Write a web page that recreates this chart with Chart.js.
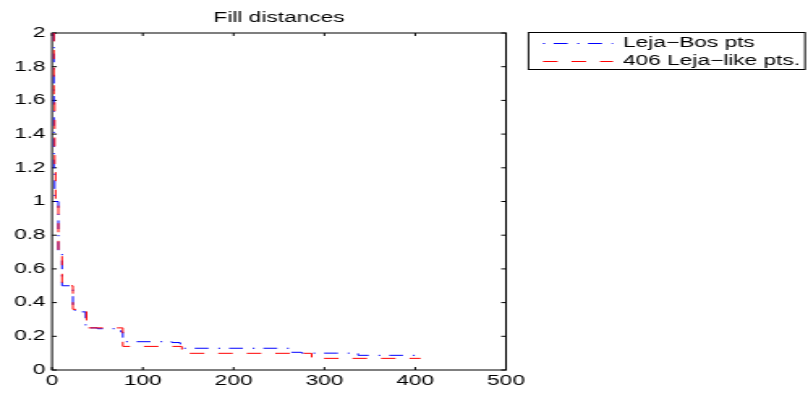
<!DOCTYPE html>
<html><head><meta charset="utf-8">
<script src="https://cdn.jsdelivr.net/npm/chart.js@4/dist/chart.umd.min.js"></script>
<style>
html,body{margin:0;padding:0;background:#fff;overflow:hidden;width:808px;height:393px;}
#wrap{width:499px;height:393px;transform:scaleX(1.6192);transform-origin:0 0;}
canvas{display:block;}
</style></head><body>
<div id="wrap"><canvas id="c" width="499" height="393"></canvas></div>
<script>
const titleText = 'Fill distances';
const seriesNames = ['Leja\u2212Bos pts', '406 Leja\u2212like pts.'];
const seriesColors = ['#0000ff', '#ff0000'];
const blueN = [1, 2, 3, 7, 11, 23, 31, 37, 50, 70, 76, 78, 132, 141, 143, 264, 275, 337, 406];
const blueV = [2.0, 1.17, 1.0, 0.71, 0.5, 0.355, 0.345, 0.25, 0.245, 0.235, 0.225, 0.168, 0.163, 0.155, 0.129, 0.105, 0.1, 0.087, 0.087];
const redN = [1, 2, 3, 4, 7, 11, 23, 38, 78, 143, 286, 406];
const redV = [2.0, 1.6, 1.2, 1.0, 0.71, 0.5, 0.36, 0.25, 0.14, 0.099, 0.069, 0.069];
const xTicks = [0, 100, 200, 300, 400, 500];
const yTicks = [0, 0.2, 0.4, 0.6, 0.8, 1, 1.2, 1.4, 1.6, 1.8, 2];

const FONT = "'Liberation Sans', Arial, Helvetica, sans-serif";
const SX = 1.6192;
const dashes = [[8.6, 6, 1.2, 5.4], [9, 8.6]];
const legendDashOffset = [14.6, 0];

const framePlugin = {
  id: 'frame',
  beforeDatasetsDraw(chart) {
    const {ctx, chartArea: a, scales} = chart;
    ctx.save();
    ctx.strokeStyle = '#000';
    ctx.lineWidth = 1;
    ctx.strokeRect(a.left, a.top, a.right - a.left, a.bottom - a.top);
    const tl = 3;
    ctx.beginPath();
    scales.x.ticks.forEach(t => {
      const x = scales.x.getPixelForValue(t.value);
      ctx.moveTo(x, a.bottom); ctx.lineTo(x, a.bottom - tl);
      ctx.moveTo(x, a.top); ctx.lineTo(x, a.top + tl);
    });
    scales.y.ticks.forEach(t => {
      const y = scales.y.getPixelForValue(t.value);
      ctx.moveTo(a.left, y); ctx.lineTo(a.left + tl, y);
      ctx.moveTo(a.right, y); ctx.lineTo(a.right - tl, y);
    });
    ctx.stroke();
    ctx.restore();
  }
};

const legendPlugin = {
  id: 'mlegend',
  afterDraw(chart) {
    const ctx = chart.ctx;
    const L = 528.5 / SX, R = 805 / SX, T = 32.5, B = 69.5;
    ctx.save();
    ctx.fillStyle = '#fff';
    ctx.fillRect(L, T, R - L, B - T);
    ctx.strokeStyle = '#000';
    ctx.lineWidth = 1;
    ctx.strokeRect(L, T, R - L, B - T);
    const rows = [43.5, 61.5];
    const x0 = 543 / SX, x1 = 613 / SX, tx = 623 / SX;
    seriesNames.forEach((name, i) => {
      ctx.save();
      ctx.beginPath();
      ctx.strokeStyle = seriesColors[i];
      ctx.lineWidth = 1;
      ctx.setLineDash(dashes[i]);
      ctx.lineDashOffset = legendDashOffset[i];
      ctx.moveTo(x0, rows[i]); ctx.lineTo(x1, rows[i]);
      ctx.stroke();
      ctx.restore();
      ctx.fillStyle = '#000';
      ctx.font = '14px ' + FONT;
      ctx.textBaseline = 'alphabetic';
      ctx.textAlign = 'left';
      ctx.fillText(name, tx, rows[i] + 3.8);
    });
    ctx.restore();
  }
};

const tickFont = {family: FONT, size: 14, weight: 'normal'};

new Chart(document.getElementById('c'), {
  type: 'line',
  data: {
    datasets: [
      {
        label: seriesNames[0],
        data: blueN.map((n, i) => ({x: n, y: blueV[i]})),
        borderColor: seriesColors[0], borderWidth: 1,
        borderDash: dashes[0],
        stepped: 'before', pointRadius: 0, fill: false, order: 1
      },
      {
        label: seriesNames[1],
        data: redN.map((n, i) => ({x: n, y: redV[i]})),
        borderColor: seriesColors[1], borderWidth: 1,
        borderDash: dashes[1],
        stepped: 'before', pointRadius: 0, fill: false, order: 0
      }
    ]
  },
  options: {
    responsive: false, animation: false, devicePixelRatio: 1,
    layout: {padding: {left: 0, right: 499 - 506 / SX, top: 0, bottom: 0}},
    plugins: {
      legend: {display: false},
      tooltip: {enabled: false},
      title: {display: true, text: titleText, color: '#000', fullSize: false,
        font: {family: FONT, size: 14, weight: 'normal'},
        padding: {top: 10, bottom: 6.2}}
    },
    scales: {
      x: {
        type: 'linear', min: 0, max: 500,
        afterBuildTicks(s) { s.ticks = xTicks.map(v => ({value: v})); },
        afterFit(s) { s.height = 23; },
        grid: {display: false, drawTicks: false},
        border: {display: false},
        ticks: {font: tickFont, color: '#000', padding: 3, maxRotation: 0, autoSkip: false,
          callback: v => String(v)}
      },
      y: {
        type: 'linear', min: 0, max: 2,
        afterBuildTicks(s) { s.ticks = yTicks.map(v => ({value: v})); },
        afterFit(s) { s.width = 52 / SX; },
        grid: {display: false, drawTicks: false},
        border: {display: false},
        ticks: {font: tickFont, color: '#000', padding: 4, autoSkip: false,
          callback: v => String(v)}
      }
    }
  },
  plugins: [framePlugin, legendPlugin]
});
</script>
</body></html>
